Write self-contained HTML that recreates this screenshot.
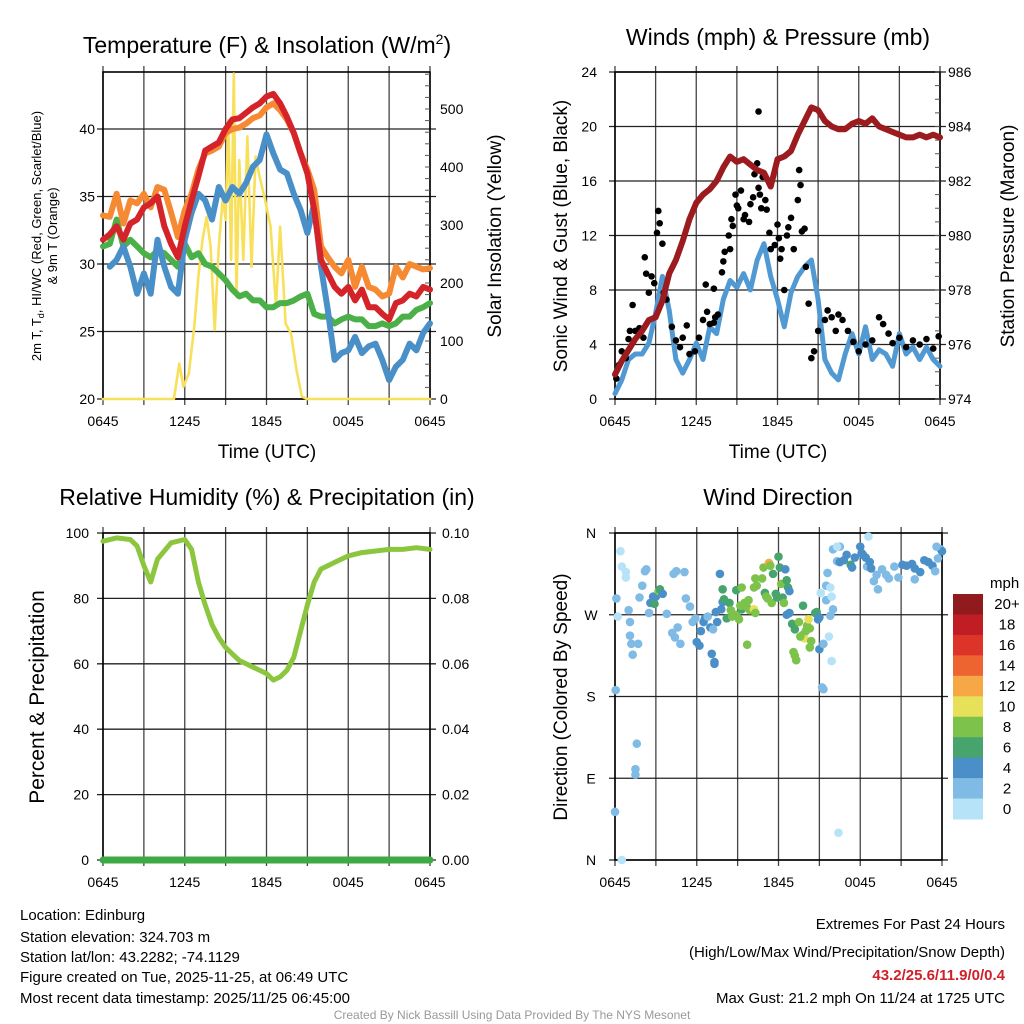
<!DOCTYPE html>
<html><head><meta charset="utf-8"><style>
html,body{margin:0;padding:0;background:#fff;}
svg{display:block;font-family:"Liberation Sans",Arial,sans-serif;}
</style></head><body>
<svg id="chart" width="1024" height="1024" viewBox="0 0 1024 1024" xmlns="http://www.w3.org/2000/svg">
<rect width="1024" height="1024" fill="#fff"/>
<g id="marks"></g>
<g font-size="23" text-anchor="middle" fill="#000">
<text x="267" y="53">Temperature (F) &amp; Insolation (W/m<tspan font-size="14" dy="-9">2</tspan><tspan dy="9">)</tspan></text>
<text x="778" y="45">Winds (mph) &amp; Pressure (mb)</text>
<text x="267" y="505">Relative Humidity (%) &amp; Precipitation (in)</text>
<text x="778" y="505">Wind Direction</text>
</g>
<g font-size="19" text-anchor="middle">
<text x="267" y="458">Time (UTC)</text>
<text x="778" y="458">Time (UTC)</text>
<text transform="translate(501,236) rotate(-90)">Solar Insolation (Yellow)</text>
<text transform="translate(567,236) rotate(-90)">Sonic Wind &amp; Gust (Blue, Black)</text>
<text transform="translate(1014,236) rotate(-90)">Station Pressure (Maroon)</text>
<text transform="translate(567,697) rotate(-90)">Direction (Colored By Speed)</text>
<text transform="translate(44,697) rotate(-90)" font-size="21">Percent &amp; Precipitation</text>
</g>
<g font-size="13" text-anchor="middle">
<text transform="translate(41,236) rotate(-90)">2m T, T<tspan font-size="9" dy="3">d</tspan><tspan dy="-3">, HI/WC (Red, Green, Scarlet/Blue)</tspan></text>
<text transform="translate(57,236) rotate(-90)">&amp; 9m T (Orange)</text>
</g>
<g font-size="15" fill="#000">
<text x="20" y="920">Location: Edinburg</text>
<text x="20" y="942">Station elevation: 324.703 m</text>
<text x="20" y="962">Station lat/lon: 43.2282; -74.1129</text>
<text x="20" y="982">Figure created on Tue, 2025-11-25, at 06:49 UTC</text>
<text x="20" y="1003">Most recent data timestamp: 2025/11/25 06:45:00</text>
<g text-anchor="end">
<text x="1005" y="929">Extremes For Past 24 Hours</text>
<text x="1005" y="957">(High/Low/Max Wind/Precipitation/Snow Depth)</text>
<text x="1005" y="980" fill="#d0202a" font-weight="bold">43.2/25.6/11.9/0/0.4</text>
<text x="1005" y="1003">Max Gust: 21.2 mph On 11/24 at 1725 UTC</text>
</g>
<text x="512" y="1019" font-size="12" fill="#999" text-anchor="middle">Created By Nick Bassill Using Data Provided By The NYS Mesonet</text>
</g>
</svg>
<script>
// ---- Temperature panel data (hours since 0645) ----
const tHours = [0,0.5,1,1.5,2,2.5,3,3.5,4,4.5,5,5.5,6,6.5,7,7.5,8,8.5,9,9.5,10,10.5,11,11.5,12,12.5,13,13.5,14,14.5,15,15.5,16,16.5,17,17.5,18,18.5,19,19.5,20,20.5,21,21.5,22,22.5,23,23.5,24];
const tempRed = [31.8,32.2,32.8,31.8,33,33.3,34.2,34.5,35,32.8,31.5,30.5,32.8,34.7,36.5,38.4,38.7,39,40,40.7,40.8,41.2,41.6,41.9,42.4,42.6,41.9,40.9,39.7,38.2,36.7,34,30.3,29.3,28.3,27.8,28.3,27.3,28.1,26.8,26.8,26.3,25.9,27.1,27.3,27.8,27.6,28.3,28.1];
const temp9m = [33.6,33.5,35.2,33,34.7,34.5,35.2,34.2,35.7,35.5,33.8,32,34,35.2,37,38.2,38.4,38.7,39.7,40,40.1,40.4,40.8,41,41.6,41.9,41.4,40.7,39.7,38.2,37,35.5,31.3,30.5,29.8,29.3,30.3,28.3,29.8,28.3,28.1,27.6,27.8,29.8,29,30,29.8,29.6,29.7];
const dewGreen = [31.3,31.5,33.3,31.3,31.8,31.3,30.8,30.5,31,30.8,30.3,29.8,31.5,30.5,30.8,30,29.8,29.3,28.8,28.1,27.6,27.8,27.3,27.3,26.8,26.8,27.1,27.1,27.3,27.6,27.8,26.3,26.1,26.1,25.6,25.9,26.1,25.9,25.9,25.4,25.4,25.6,25.4,25.6,26.1,26.1,26.6,26.8,27.1];
const windChillBlue = [null,29.8,30.3,31.3,29.8,27.8,29.3,27.8,31.8,29.8,28.3,27.8,31.8,33.8,35.2,34.7,33.3,35.7,34.7,35.7,35.2,36,37.2,37.7,39.6,38.2,37,36.7,35.2,34,32.3,34.5,29.8,26.6,22.9,23.4,23.6,24.6,23.4,23.9,24.1,22.9,21.4,22.4,22.9,24.1,23.6,24.9,25.6];
const solarHours = [0,5.2,5.6,5.9,6.3,6.7,7,7.3,7.6,7.9,8.2,8.5,8.8,9,9.2,9.4,9.6,9.8,10,10.3,10.6,10.9,11.2,11.5,11.9,12.3,12.7,13,13.4,13.8,14.2,14.6,15,24];
const solarValues = [0,0,61,21,44,125,211,274,314,263,119,263,349,309,481,240,561,176,412,240,453,228,418,383,343,297,159,297,130,113,50,4,0,0];
// ---- Wind panel data ----
const windHours = tHours;
const sonicWind = [0.4,1.4,2.9,3.3,3.3,4.1,6.3,9,6.5,2.9,1.9,2.9,4.1,2.9,5.3,4.8,7.3,8.7,8.2,9.2,8,10.2,11.4,9,7.3,5.3,7.8,9,9.7,10.2,7.3,2.9,1.9,1.4,3.3,4.8,3.3,5.3,2.9,3.6,3.3,2.4,4.8,3.3,3.8,2.9,3.8,2.9,2.4];
const pressure = [974.9,975.4,975.8,976.2,976.5,976.9,977,977.6,978.6,979.1,979.8,980.6,981.2,981.5,981.7,982,982.5,982.9,982.7,982.8,982.6,982.4,982.3,981.8,982.8,982.9,983.1,983.7,984.2,984.7,984.6,984.2,984,983.9,983.9,984.1,984.2,984.1,984.3,984,983.9,983.8,983.7,983.6,983.6,983.7,983.6,983.7,983.6];
const gustHours = [0.1,0.3,0.5,0.8,1,1.1,1.3,1.5,1.8,2.1,2.2,2.3,2.5,2.7,2.9,3.2,3.3,3.5,3.1,3.6,3.8,4.2,4.5,4.8,5,5.3,5.5,5.9,6.2,6.5,6.8,6.7,7,7.3,7.4,7.6,7.3,7.9,8,8.1,8.4,8.5,8.6,8.7,8.9,9,9.1,9.3,9.5,9.6,9.9,10,10.2,10.3,10.5,10.6,10.7,10.9,10.6,10.8,11.1,11.2,11.4,11.5,11.8,12,12.1,12.3,12.2,12.5,12.7,12.8,13,13.2,13.5,13.6,13.7,13.8,14,14.1,14.3,14.5,14.7,15,15.5,15.7,16,16.3,16.5,16.8,17.2,17.6,18,18.5,19,19.5,19.8,20.2,20.5,21,21.5,22,22.5,23,23.5,23.9];
const gustValues = [1.5,2.5,3.5,3,4.4,5,6.9,5,5.2,4.5,10.4,9.2,7.8,9,8.5,13.8,12.9,11.4,12.2,7.8,7.3,5.3,4.3,3.8,4.5,5.4,3.3,3.5,4.5,5.8,6.4,8.4,5.5,5.6,6,6.2,8.1,9.3,10.1,10.8,12,11,13.2,12.7,15,14.2,14,15.3,13.2,13.5,13,14.3,14.8,16.5,17.3,15.5,15,16.3,21.1,14,14.6,13.9,12.2,11,11.3,12.8,11.8,11,10.3,8,12,12.6,13.3,11,14.6,16.8,15.7,12.3,12.5,9.7,7,3,3.5,5,5.8,6.5,6,5,6.2,5.8,5,4.2,3.5,4,4.3,6,5.5,4.8,4.1,4.5,3.8,4.3,4,4.4,3.7,4.6];
// ---- RH panel data ----
const rhHours = [0,1,2,2.5,3,3.5,4,5,6,6.5,7,7.5,8,8.5,9,9.5,10,10.5,11,11.5,12,12.5,13,13.5,14,14.5,15,15.5,16,16.5,17,18,19,20,21,22,23,24];
const rhValues = [97.5,98.5,98,96,90,85,92,97,98,95,85,78,72,68,65,63,61,60,59,58,57,55,56,58,62,70,78,85,89,90,91,93,94,94.5,95,95,95.5,95];
const precipValues = [0,0];
// ---- Wind direction data ----
const dirHours = [0.4,0.5,0.8,0.8,0.1,0.2,1,1.1,1.1,1.2,1.3,1.7,0.05,1.6,1.5,1.5,0,0.5,1.8,2,2.2,2.3,2.5,2.6,2.8,2.9,3,3.2,3.3,3.5,3.8,4.3,4.5,4.2,4.4,4.6,4.8,5.1,5.2,5.5,5.7,5.9,6.2,6,6.3,6.5,6.6,6.8,7,7.2,7.1,7.3,7.3,7.5,7.4,7.8,7.9,7.7,7.9,8,8.2,8.4,8.5,8.6,8.9,9.1,9.3,8.9,9.3,9.3,9.2,9.5,9.8,9.7,9.9,10.2,10.3,9.7,10.3,10.2,10.4,10.8,10.9,11,11.1,11.2,11.5,11.3,11.4,11.6,11.8,11.9,12,12.1,12.2,12.3,12.4,12.6,12.7,12.8,12.5,12.6,12.8,13,13.2,13.5,13.8,13.9,14,14.1,14.2,14.3,14.4,14.7,14.8,14.3,13.1,13.2,13.3,13.6,13.8,14.9,15,15,15.2,15.3,15.3,15.1,15.5,15.5,15.8,15.7,15.9,15.8,15.6,16,16.3,16.5,16.5,16.8,17,17.3,17.4,17.6,18.1,18.2,18,18.4,18.5,18.7,18.8,19,19.2,19.3,19.6,19.9,20.1,20.5,20.8,21.1,21.4,21.8,22,22.4,22,22.7,23,23.3,23.5,23.7,23.9,24,23.6,18.6,16.4,16.3,16,15.9];
const dirDegrees = [340,323,317,311,288,268,275,262,247,238,226,238,187,128,100,94,53,0,289,302,318,320,272,283,290,282,290,296,298,293,271,315,318,250,245,256,238,317,288,279,262,266,236,240,252,262,266,268,256,254,227,218,216,262,273,276,284,315,298,287,266,283,275,268,270,265,276,297,300,280,280,283,286,278,275,276,272,237,310,300,302,310,322,294,290,288,283,327,324,315,293,289,334,322,304,289,283,308,300,272,320,270,296,260,254,262,248,244,252,258,265,255,241,272,273,234,229,225,220,246,280,265,267,232,190,188,238,294,302,286,269,246,219,300,316,342,329,345,328,330,336,325,322,333,338,336,345,333,323,328,321,307,314,298,320,314,310,323,311,325,324,326,321,317,309,330,328,324,318,332,342,340,345,356,30,345,276,290];
const dirSpeedBin = [0,0,0,0,1,0,1,1,1,1,1,1,1,1,1,1,1,0,1,1,1,1,1,2,2,3,2,4,3,2,1,1,1,1,1,1,1,1,1,1,1,1,2,2,2,2,2,1,2,1,2,2,2,2,2,2,2,2,3,3,3,3,4,4,4,4,3,3,4,4,4,4,4,4,4,5,4,4,4,4,4,4,4,3,4,4,4,6,4,3,3,3,3,3,4,3,4,3,3,2,2,2,2,3,3,4,4,5,4,4,5,4,4,3,3,4,4,4,4,4,3,2,2,2,1,1,1,0,1,1,1,0,0,0,1,1,1,1,2,2,2,3,2,2,2,2,2,2,1,2,2,1,1,1,1,1,1,1,1,2,2,2,2,2,1,2,2,2,1,1,1,2,1,0,0,0,1,0];
const speedColors = ["#b6e3f8","#7fbbe5","#4a8fc7","#47a46d","#7cc24b","#e7e059","#f5a845","#ee6431","#dd3429","#c01d25","#911a1d"];
const speedLabels = ["0","2","4","6","8","10","12","14","16","18","20+"];
const tempTicks = [20,25,30,35,40];
const solarTicks = [0,100,200,300,400,500];
const windTicks = [0,4,8,12,16,20,24];
const pressTicks = [974,976,978,980,982,984,986];
const rhTicks = [0,20,40,60,80,100];
const precipTicks = ["0.00","0.02","0.04","0.06","0.08","0.10"];
const dirTickDeg = [360,270,180,90,0];
const dirTickLabels = ["N","W","S","E","N"];
const timeTickHours = [0,6,12,18,24];
const timeTickLabels = ["0645","1245","1845","0045","0645"];

const NS="http://www.w3.org/2000/svg";
const root=document.getElementById('marks');
function el(tag,attrs,parent){const e=document.createElementNS(NS,tag);for(const k in attrs)e.setAttribute(k,attrs[k]);(parent||root).appendChild(e);return e;}
function named(e,n){


return e;}

const P1={x0:103,x1:430,y0:72,y1:399};
const P2={x0:615,x1:940,y0:72,y1:399};
const P3={x0:103,x1:430,y0:533,y1:860};
const P4={x0:615,x1:942,y0:533,y1:860};
function xs(P,h){return P.x0+(P.x1-P.x0)*h/24;}
const y1L=v=>399-(v-20)*13.5, y1R=v=>399-v*0.58;
const y2L=v=>399-v*13.625, y2R=v=>399-(v-974)*27.25;
const y3=v=>860-v*3.27, y3R=v=>860-v*3270;
const y4=d=>860-d*327/360;

function frame(P,hVals,yf,name){
 const g=named(el('g',{}),name+'-grid');
 for(let h=0;h<=24;h+=3){const x=xs(P,h);const l=el('line',{x1:x,x2:x,y1:P.y0-6,y2:P.y1+6,stroke:'#444','stroke-width':1.3},g);named(l,name+'-vgrid');}
 hVals.forEach(v=>{const y=yf(v);const l=el('line',{x1:P.x0-6,x2:P.x1+6,y1:y,y2:y,stroke:'#222','stroke-width':1.3},g);named(l,name+'-hgrid');});
 const r=el('rect',{x:P.x0,y:P.y0,width:P.x1-P.x0,height:P.y1-P.y0,fill:'none',stroke:'#000','stroke-width':1.6},g);named(r,name+'-frame');
 timeTickHours.forEach((h,i)=>{const t=el('text',{x:xs(P,h),y:P.y1+27,'font-size':14,'text-anchor':'middle'},g);t.textContent=timeTickLabels[i];named(t,name+'-x-tick-label');});
}
function leftLabels(P,vals,labels,yf,x,name,anchor){vals.forEach((v,i)=>{const t=el('text',{x:x,y:yf(v)+5,'font-size':14,'text-anchor':anchor||'end'});t.textContent=labels[i];named(t,name);});}
function minor(P,from,to,step,yf,name){for(let v=from;v<=to+1e-9;v+=step){const y=yf(v);const l=el('line',{x1:P.x1,x2:P.x1-5,y1:y,y2:y,stroke:'#555','stroke-width':1});named(l,name);}}
function path(xsArr,ysArr,P,xf,yf,color,w,name){let d='',pen=false;for(let i=0;i<xsArr.length;i++){const v=ysArr[i];if(v==null){pen=false;continue;}d+=(pen?'L':'M')+xf(P,xsArr[i]).toFixed(1)+','+yf(v).toFixed(1);pen=true;}
 const p=el('path',{d:d,fill:'none',stroke:color,'stroke-width':w,'stroke-linejoin':'round','stroke-linecap':'round'});named(p,name);return p;}

// Panel 1
frame(P1,tempTicks,y1L,'temp');
minor(P1,0,560,20,y1R,'solar-minor-tick');
leftLabels(P1,tempTicks,tempTicks.map(String),y1L,95,'temp-y-tick-label');
leftLabels(P1,solarTicks,solarTicks.map(String),y1R,440,'solar-y-tick-label','start');
path(solarHours,solarValues,P1,xs,y1R,'#f9e05a',2.6,'solar-insolation-line');
path(tHours,dewGreen,P1,xs,y1L,'#4bb047',6,'dewpoint-line');
path(tHours,windChillBlue,P1,xs,y1L,'#4a90c8',6,'windchill-line');
path(tHours,temp9m,P1,xs,y1L,'#f68a33',6,'temp-9m-line');
path(tHours,tempRed,P1,xs,y1L,'#d4242a',6,'temp-2m-line');

// Panel 2
frame(P2,windTicks,y2L,'wind');
minor(P2,974,986,0.5,y2R,'pressure-minor-tick');
leftLabels(P2,windTicks,windTicks.map(String),y2L,597,'wind-y-tick-label');
leftLabels(P2,pressTicks,pressTicks.map(String),y2R,948,'pressure-y-tick-label','start');
path(windHours,sonicWind,P2,xs,y2L,'#5199d3',5,'sonic-wind-line');
gustHours.forEach((h,i)=>{const c=el('circle',{cx:xs(P2,h),cy:y2L(gustValues[i]),r:3.3,fill:'#000'});named(c,'gust-point');});
path(windHours,pressure,P2,xs,y2R,'#9b1b1e',6,'pressure-line');

// Panel 3
frame(P3,rhTicks,y3,'rh');
leftLabels(P3,rhTicks,rhTicks.map(String),y3,89,'rh-y-tick-label');
leftLabels(P3,[0,0.02,0.04,0.06,0.08,0.1],precipTicks,y3R,442,'precip-y-tick-label','start');
path(rhHours,rhValues,P3,xs,y3,'#8cc63f',5,'rh-line');
path([0,24],precipValues,P3,xs,y3R,'#3daa45',7,'precip-line');

// Panel 4
frame(P4,dirTickDeg,y4,'direction');
leftLabels(P4,dirTickDeg,dirTickLabels,y4,591,'direction-y-tick-label','middle');
dirHours.forEach((h,i)=>{const c=el('circle',{cx:xs(P4,h),cy:y4(dirDegrees[i]),r:4.3,fill:speedColors[dirSpeedBin[i]]});named(c,'direction-point');});
// Colorbar
const cbTop=594,cbH=225/11;
const mt=el('text',{x:990,y:588,'font-size':15});mt.textContent='mph';named(mt,'colorbar-title');
for(let i=0;i<11;i++){const k=10-i;const r=el('rect',{x:953,y:cbTop+i*cbH,width:30,height:cbH+0.5,fill:speedColors[k]});named(r,'colorbar-swatch');
 const t=el('text',{x:1007,y:cbTop+i*cbH+cbH/2+5,'font-size':15,'text-anchor':'middle'});t.textContent=speedLabels[k];named(t,'colorbar-label');}
</script>
</body></html>
